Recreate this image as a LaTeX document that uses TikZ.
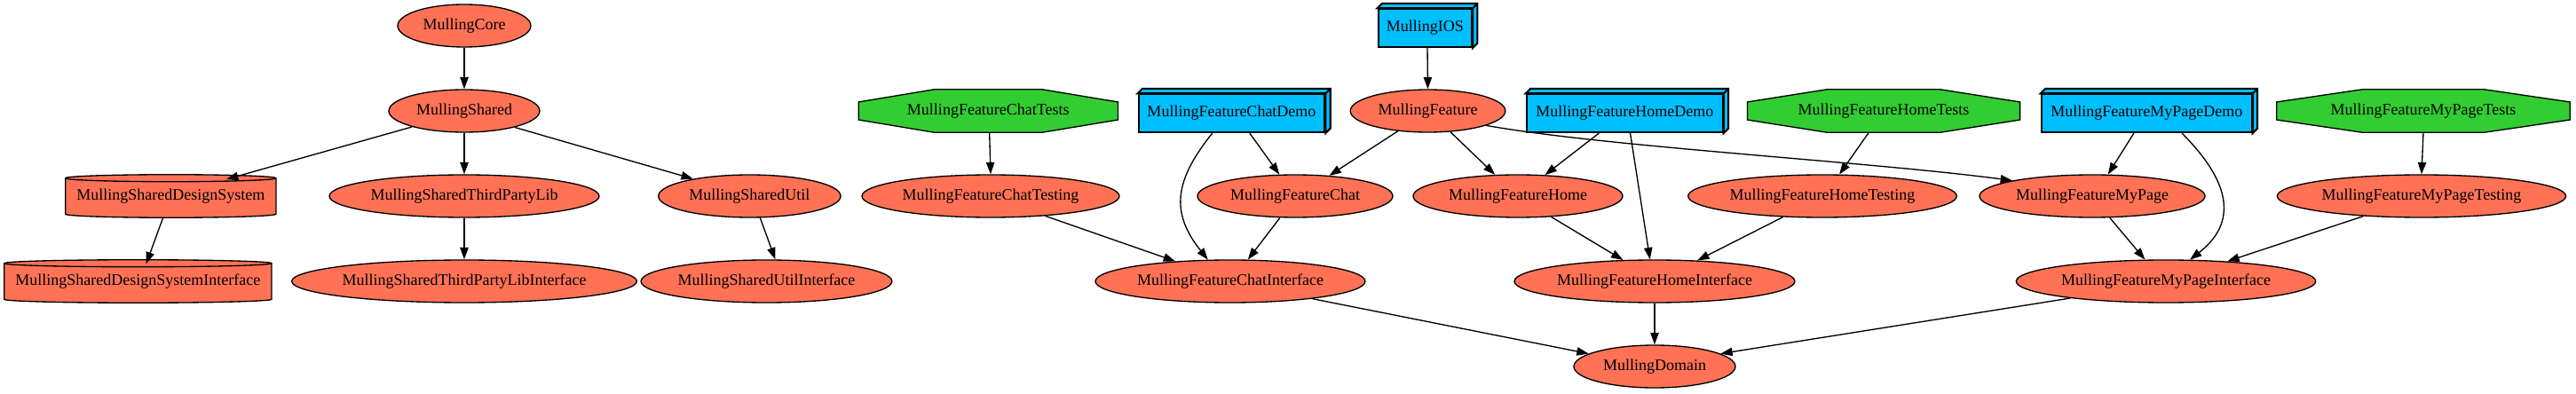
\documentclass[tikz,border=0pt]{standalone}
\usepackage{fontspec}
\setmainfont{Liberation Serif}
\usetikzlibrary{shapes.geometric,arrows.meta,calc}
\definecolor{gvcoral}{HTML}{FF7256}
\definecolor{gvblue}{HTML}{00BFFF}
\definecolor{gvgreen}{HTML}{32CD32}
\pgfdeclarelayer{background}
\pgfsetlayers{background,main}
\tikzset{
 lbl/.style={font=\fontsize{13.5pt}{16pt}\selectfont, inner sep=0pt, text=black},
 mod/.style={lbl, ellipse, draw=black, line width=1pt, fill=gvcoral, minimum height=36pt},
 demo/.style={lbl, rectangle, draw=black, line width=1.6pt, fill=gvblue, minimum height=32pt},
 tests/.style={lbl, rectangle, minimum height=36pt},
 cyl/.style={lbl, rectangle, minimum height=36pt},
 dep/.style={draw=black, line width=1pt, -{Triangle[length=10pt,width=7pt]}},
 octfill/.style={fill=gvgreen, draw=black, line width=1pt},
 cylfill/.style={fill=gvcoral, draw=black, line width=1pt},
 boxfill/.style={fill=gvblue, draw=black, line width=1.6pt, line join=miter},
}
\newcommand\octshape[1]{\begin{pgfonlayer}{background}
 \path[octfill] ($(#1.north west)!.293!(#1.north east)$) -- ($(#1.north west)!.707!(#1.north east)$) -- ($(#1.north east)!.293!(#1.south east)$) -- ($(#1.north east)!.707!(#1.south east)$) -- ($(#1.south east)!.293!(#1.south west)$) -- ($(#1.south east)!.707!(#1.south west)$) -- ($(#1.south west)!.293!(#1.north west)$) -- ($(#1.south west)!.707!(#1.north west)$) -- cycle;
\end{pgfonlayer}}
\newcommand\cylshape[1]{\begin{pgfonlayer}{background}
 \path[cylfill] let \p1=(#1.north west), \p2=(#1.south east), \n1={(\x2-\x1)/2} in
  ([yshift=-3pt]#1.north west) -- ([yshift=3pt]#1.south west) arc[start angle=180, end angle=360, x radius=\n1, y radius=3pt] -- ([yshift=-3pt]#1.north east) arc[start angle=0, end angle=180, x radius=\n1, y radius=3pt] -- cycle;
 \path[draw=black, line width=1pt] let \p1=(#1.north west), \p2=(#1.south east), \n1={(\x2-\x1)/2} in ([yshift=-3pt]#1.north west) arc[start angle=180, end angle=360, x radius=\n1, y radius=3pt];
\end{pgfonlayer}}
\newcommand\boxshape[1]{\path[boxfill] (#1.north west) -- ++(4pt,4pt) -- ([shift={(4pt,4pt)}]#1.north east) -- ([shift={(4pt,4pt)}]#1.south east) -- (#1.south east) -- (#1.north east) -- cycle (#1.north east) -- ++(4pt,4pt);}
\begin{document}
\begin{tikzpicture}[x=1pt,y=1pt]
\useasboundingbox (0,0) rectangle (2176.5,332.25);
% row 1
\node[mod, minimum width=112.5pt] (core) at (392.25,310.5) {MullingCore};
\node[demo, minimum width=79pt] (ios) at (1204,308.5) {MullingIOS};
% row 2
\node[mod, minimum width=127.5pt] (shared) at (392.25,238.5) {MullingShared};
\node[tests, minimum width=218.75pt] (chattests) at (835,238.5) {MullingFeatureChatTests};
\node[demo, minimum width=157.25pt] (chatdemo) at (1040.6,236.5) {MullingFeatureChatDemo};
\node[mod, minimum width=131pt] (feature) at (1206.4,238.5) {MullingFeature};
\node[demo, minimum width=165.5pt] (homedemo) at (1372.75,236.5) {MullingFeatureHomeDemo};
\node[tests, minimum width=230pt] (hometests) at (1591.5,238.5) {MullingFeatureHomeTests};
\node[demo, minimum width=177.5pt] (mypagedemo) at (1813.75,236.5) {MullingFeatureMyPageDemo};
\node[tests, minimum width=247.5pt] (mypagetests) at (2047.5,238.5) {MullingFeatureMyPageTests};
% row 3
\node[cyl, minimum width=177.5pt] (ds) at (144.25,166.5) {MullingSharedDesignSystem};
\node[mod, minimum width=228pt] (stpl) at (392.25,166.5) {MullingSharedThirdPartyLib};
\node[mod, minimum width=154pt] (su) at (633.3,166.5) {MullingSharedUtil};
\node[mod, minimum width=217.5pt] (chattesting) at (837,166.5) {MullingFeatureChatTesting};
\node[mod, minimum width=165pt] (chat) at (1094.25,166.5) {MullingFeatureChat};
\node[mod, minimum width=177pt] (home) at (1282.5,166.5) {MullingFeatureHome};
\node[mod, minimum width=227pt] (hometesting) at (1539.75,166.5) {MullingFeatureHomeTesting};
\node[mod, minimum width=190.5pt] (mypage) at (1767.75,166.5) {MullingFeatureMyPage};
\node[mod, minimum width=244pt] (mypagetesting) at (2046,166.5) {MullingFeatureMyPageTesting};
% row 4
\node[cyl, minimum width=225.5pt] (dsi) at (116.5,94.5) {MullingSharedDesignSystemInterface};
\node[mod, minimum width=291pt] (stpli) at (392.25,94.5) {MullingSharedThirdPartyLibInterface};
\node[mod, minimum width=184.5pt] (sui) at (647.6,94.5) {MullingSharedUtilInterface};
\node[mod, minimum width=228pt] (chatif) at (1039.5,94.5) {MullingFeatureChatInterface};
\node[mod, minimum width=237pt] (homeif) at (1398,94.5) {MullingFeatureHomeInterface};
\node[mod, minimum width=253pt] (mypageif) at (1830,94.5) {MullingFeatureMyPageInterface};
% row 5
\node[mod, minimum width=136.5pt] (domain) at (1398,22.5) {MullingDomain};
% special shapes
\octshape{chattests}
\octshape{hometests}
\octshape{mypagetests}
\cylshape{ds}
\cylshape{dsi}
\boxshape{ios}
\boxshape{chatdemo}
\boxshape{homedemo}
\boxshape{mypagedemo}
% edges
\draw[dep] (core) -- (shared);
\draw[dep] (shared.197) -- ([xshift=47pt,yshift=-4pt]ds.north);
\draw[dep] (shared) -- (stpl);
\draw[dep] (shared.-18) -- (su.163.5);
\draw[dep] ([xshift=-6.5pt]ds.south) -- ([xshift=7pt,yshift=-3.5pt]dsi.north);
\draw[dep] (stpl) -- (stpli);
\draw[dep] (su.-64) -- (sui.68);
\draw[dep] ([xshift=2pt]ios.south) -- (feature.north);
\draw[dep] ([xshift=1pt]chattests.south) -- (chattesting.north);
\draw[dep] ([xshift=15.3pt]chatdemo.south) -- (chat.126);
\draw[dep] ([xshift=-16.3pt]chatdemo.south) .. controls +(-32pt,-40pt) and +(-32pt,40pt) .. (chatif.136);
\draw[dep] (feature.214) -- (chat.31);
\draw[dep] (feature.-43) -- (home.137);
\draw[dep] (feature.-14) .. controls +(100pt,-18pt) and +(-120pt,16pt) .. (mypage.169);
\draw[dep] ([xshift=-21.75pt]homedemo.south) -- (home.38);
\draw[dep] ([xshift=4.65pt]homedemo.south) -- (homeif.102);
\draw[dep] ([xshift=-12.5pt]hometests.south) -- (hometesting.52);
\draw[dep] ([xshift=-10.85pt]mypagedemo.south) -- (mypage.54);
\draw[dep] ([xshift=29.75pt]mypagedemo.south) .. controls +(35pt,-35pt) and +(45pt,35pt) .. (mypageif.42);
\draw[dep] (mypagetests.south) -- (mypagetesting.north);
\draw[dep] (chattesting.-20) -- (chatif.160);
\draw[dep] (chat.235) -- (chatif.51);
\draw[dep] (home.-32) -- (homeif.146);
\draw[dep] (hometesting.208) -- (homeif.26);
\draw[dep] (mypage.-51) -- (mypageif.134);
\draw[dep] (mypagetesting.199) -- (mypageif.18);
\draw[dep] (chatif.-12) -- (domain.169);
\draw[dep] (homeif) -- (domain);
\draw[dep] (mypageif.190) -- (domain.11);
\end{tikzpicture}
\end{document}
